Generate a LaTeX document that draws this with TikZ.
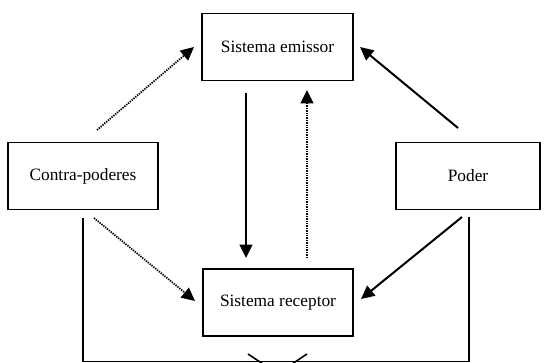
\documentclass[tikz,border=0pt]{standalone}
\usepackage{fontspec}
\setmainfont{Liberation Serif}
\usetikzlibrary{arrows.meta}
\begin{document}
\begin{tikzpicture}[x=0.75pt,y=-0.75pt,
  blockbox/.style={draw,line width=1.2pt,minimum width=#1*0.75pt,minimum height=50pt,
    inner sep=0pt,font=\fontsize{13}{15}\selectfont},
  flow/.style={line width=1.5pt,-{Triangle[length=10pt,width=9.5pt]}},
  dotflow/.style={line width=1.3pt,dash pattern=on 1pt off 0.8pt,-{Triangle[length=10pt,width=9.5pt]}},
  frameline/.style={line width=1.2pt}]
\useasboundingbox (0,0) rectangle (545,363);
\begin{scope}
\clip (0,0) rectangle (545,363);

% boxes
\node[blockbox=151] (em) at (277.5,47) {Sistema emissor};
\node[blockbox=150] (cp) at (83,176) {Contra-poderes};
\node[blockbox=144] (po) at (468,176) {Poder};
\node[blockbox=150] (re) at (278,302.5) {Sistema receptor};

% arrow end points
\coordinate (cpTop) at (97,130);
\coordinate (emL)   at (194,47);
\coordinate (poTop) at (458,128);
\coordinate (emR)   at (360,47);
\coordinate (emB)   at (246,93);
\coordinate (reT)   at (246,258);
\coordinate (reT2)  at (307,258);
\coordinate (emB2)  at (307,90);
\coordinate (cpBot) at (94,218);
\coordinate (reL)   at (195,301);
\coordinate (poBot) at (462,217);
\coordinate (reR)   at (361,299);

% connectors
\draw[dotflow] (cpTop) -- (emL);
\draw[flow] (poTop) -- (emR);
\draw[flow] (emB) -- (reT);
\draw[dotflow] (reT2) -- (emB2);
\draw[dotflow] (cpBot) -- (reL);
\draw[flow] (poBot) -- (reR);

% lower loop
\coordinate (lTop) at (83,218);
\coordinate (rTop) at (469,217);
\coordinate (lBot) at (83,361.5);
\coordinate (rBot) at (469,361.5);
\draw[frameline] (lTop) -- (lBot) -- (rBot) -- (rTop);

\coordinate (v1a) at (248,354);
\coordinate (v1b) at (263,364);
\coordinate (v2a) at (307,354);
\coordinate (v2b) at (292,364);
\draw[frameline] (v1a) -- (v1b);
\draw[frameline] (v2a) -- (v2b);
\end{scope}
\end{tikzpicture}
\end{document}
